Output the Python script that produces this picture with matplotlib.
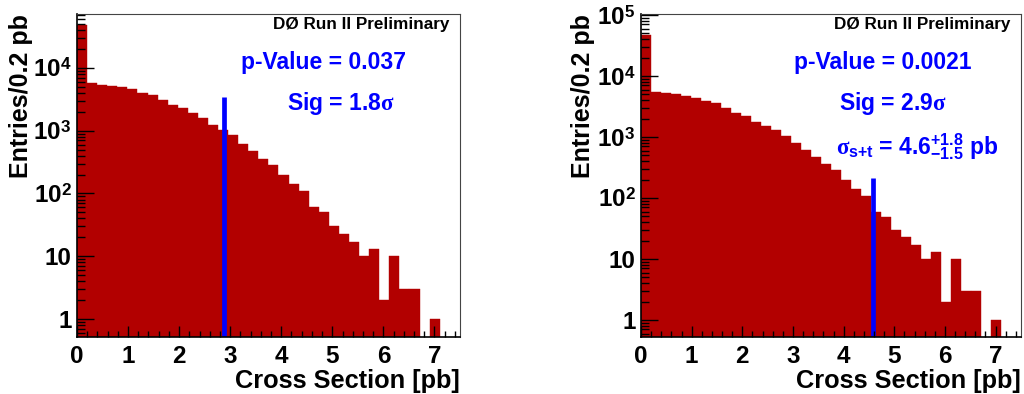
import numpy as np
import matplotlib
matplotlib.use('Agg')
import matplotlib.pyplot as plt
from matplotlib.ticker import MultipleLocator, LogLocator, NullFormatter, FuncFormatter

plt.rcParams['font.family'] = ['Liberation Sans', 'DejaVu Sans']
plt.rcParams['font.weight'] = 'bold'
plt.rcParams['axes.labelweight'] = 'bold'
plt.rcParams['mathtext.fontset'] = 'custom'
plt.rcParams['mathtext.rm'] = 'Liberation Sans:bold'
plt.rcParams['mathtext.bf'] = 'Liberation Sans:bold'
plt.rcParams['mathtext.it'] = 'Liberation Serif'

# histogram: 37 bins from 0 to 7.3 pb
hist_range = (0.0, 7.3)
counts_left = [48400, 5700, 5420, 5220, 4920, 4580, 4040, 3710, 3090, 2570,
               2280, 1900, 1580, 1220, 1030, 855, 615, 481, 351, 288,
               199, 142, 110, 60, 50, 30, 23, 17, 10, 13,
               2, 10, 3, 3, 0, 1, 0]
counts_right = [47000, 5530, 5200, 5000, 4700, 4300, 3940, 3650, 3020, 2500,
                2210, 1780, 1510, 1300, 1040, 807, 612, 476, 357, 288,
                197, 139, 108, 60, 49, 30, 23, 17, 10, 13,
                2, 10, 3, 3, 0, 1, 0]

# measured cross sections (blue lines) and their heights
measured = [2.88, 4.58]
line_tops = [3500, 215]

texts_left = ['p-Value = 0.037', r'Sig = 1.8$\sigma$']
texts_right = ['p-Value = 0.0021', r'Sig = 2.9$\sigma$',
               r'$\sigma_{\mathbf{s{+}t}}$ = 4.6$^{\mathbf{+1.8}}_{\mathbf{-1.5}}$ pb']

red = '#b20000'
blue = '#0000ff'


def ylog_fmt(v, pos):
    if v == 1:
        return '1'
    if v == 10:
        return '10'
    return r'$10^{%d}$' % int(round(np.log10(v)))


def panel(ax, counts, xm, ytop, ylim, texts, tpos, label_x):
    edges = np.linspace(hist_range[0], hist_range[1], len(counts) + 1)
    width = edges[1] - edges[0]
    ax.bar(edges[:-1], counts, width=width, align='edge', color=red,
           edgecolor=red, linewidth=0.3, log=True)
    ax.vlines(xm, ylim[0], ytop, color=blue, linewidth=3.4)

    ax.set_xlim(0, 7.5)
    ax.set_ylim(*ylim)

    # ticks inside, root style
    ax.xaxis.set_major_locator(MultipleLocator(1))
    ax.xaxis.set_minor_locator(MultipleLocator(0.2))
    ax.yaxis.set_major_locator(LogLocator(base=10))
    ax.yaxis.set_minor_locator(LogLocator(base=10, subs=np.arange(2, 10)))
    ax.yaxis.set_major_formatter(FuncFormatter(ylog_fmt))
    ax.yaxis.set_minor_formatter(NullFormatter())
    ax.tick_params(which='both', direction='in', top=False, right=False,
                   labelsize=17.5, color='black')
    ax.tick_params(axis='x', which='major', length=8, width=1, pad=6)
    ax.tick_params(axis='x', which='minor', length=4, width=1)
    ax.tick_params(axis='y', which='major', length=12, width=1, pad=4)
    ax.tick_params(axis='y', which='minor', length=6, width=1)
    ax.set_axisbelow(False)

    for s in ['left', 'bottom']:
        ax.spines[s].set_color('black')
        ax.spines[s].set_linewidth(1.2)
    for s in ['top', 'right']:
        ax.spines[s].set_color('#444444')
        ax.spines[s].set_linewidth(0.8)

    ax.set_xlabel('Cross Section [pb]', fontsize=18.3, loc='right')
    ax.xaxis.set_label_coords(1.0, -0.1)
    ax.set_ylabel('Entries/0.2 pb', fontsize=18, loc='top')
    ax.yaxis.set_label_coords(label_x, 1.0)

    ax.text(0.972, 0.966, 'DØ Run II Preliminary', transform=ax.transAxes,
            ha='right', va='center', fontsize=12.3)
    for t, (x, y) in zip(texts, tpos):
        ax.text(x, y, t, transform=ax.transAxes, ha='center', va='center',
                fontsize=16.5, color=blue)


fig = plt.figure(figsize=(10.24, 3.94), dpi=100)
ax1 = fig.add_axes([0.0752, 0.1447, 0.374, 0.8198])
ax2 = fig.add_axes([0.626, 0.1447, 0.371, 0.8198])

panel(ax1, counts_left, measured[0], line_tops[0], (0.516, 72500),
      texts_left, [(0.644, 0.851), (0.688, 0.724)], -0.115)
panel(ax2, counts_right, measured[1], line_tops[1], (0.526, 104000),
      texts_right, [(0.636, 0.851), (0.664, 0.724), (0.726, 0.588)], -0.12)

plt.savefig('out.png', dpi=100)
